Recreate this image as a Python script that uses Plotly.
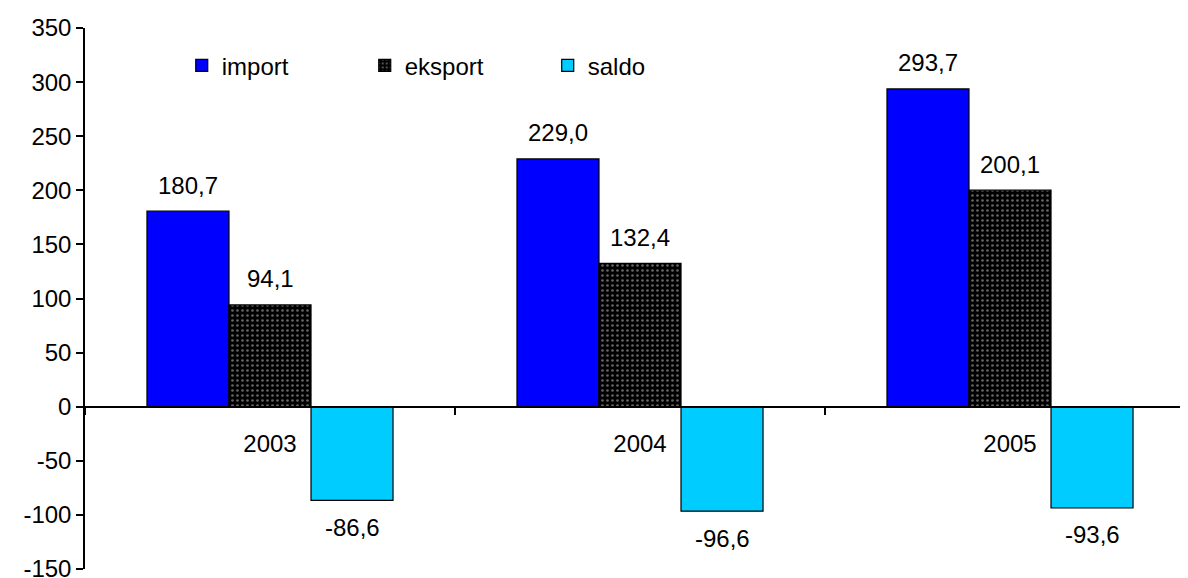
import plotly.graph_objects as go

years = ["2003", "2004", "2005"]
import_vals = [180.7, 229.0, 293.7]
eksport_vals = [94.1, 132.4, 200.1]
saldo_vals = [-86.6, -96.6, -93.6]
series_names = ["import", "eksport", "saldo"]
y_ticks = [-150, -100, -50, 0, 50, 100, 150, 200, 250, 300, 350]
y_tick_text = [str(v) for v in y_ticks]

FONT = "Liberation Sans, Arial, sans-serif"
FS = 24

fig = go.Figure()
fig.add_trace(go.Bar(x=years, y=import_vals, name=series_names[0],
                     marker=dict(color="#0000FF", line=dict(color="black", width=1.2))))
fig.add_trace(go.Bar(x=years, y=eksport_vals, name=series_names[1],
                     marker=dict(color="black", line=dict(color="black", width=1.2),
                                 pattern=dict(shape=".", fgcolor="#cccccc", bgcolor="black",
                                              size=5, solidity=0.22))))
fig.add_trace(go.Bar(x=years, y=saldo_vals, name=series_names[2],
                     marker=dict(color="#00CCFF", line=dict(color="black", width=1.2))))

bargap = 0.335
bw = (1 - bargap) / 3
annotations = []
for si, vals in enumerate([import_vals, eksport_vals, saldo_vals]):
    off = (si - 1) * bw
    for ci, v in enumerate(vals):
        annotations.append(dict(
            x=ci + off, y=v, xref="x", yref="y",
            text=f"{v:.1f}".replace(".", ","), showarrow=False,
            yshift=26 if v >= 0 else -27,
            font=dict(family=FONT, size=FS, color="black")))

fig.update_layout(
    width=1180, height=570,
    margin=dict(l=77, r=0, t=20, b=9, autoexpand=False),
    paper_bgcolor="white", plot_bgcolor="white",
    barmode="group", bargap=bargap, bargroupgap=0,
    font=dict(family=FONT, size=FS, color="black"),
    showlegend=True,
    legend=dict(orientation="h", x=0.0877, y=0.93, xanchor="left", yanchor="middle",
                entrywidth=138, font=dict(family=FONT, size=FS),
                bgcolor="rgba(0,0,0,0)", itemwidth=30),
    annotations=annotations,
    xaxis=dict(type="category", range=[-0.5, -0.5 + 1103 / 370],
               anchor="free", position=0.3, automargin=False,
               showline=True, linecolor="black", linewidth=1.5,
               ticks="outside", tickson="boundaries", ticklen=8, tickwidth=1.5,
               tickcolor="black", ticklabelstandoff=16,
               showgrid=False, zeroline=False,
               tickfont=dict(family=FONT, size=FS)),
    yaxis=dict(range=[-150, 350], tickvals=y_ticks, ticktext=y_tick_text,
               showgrid=False, zeroline=False, ticklabeloverflow="allow",
               automargin=False,
               showline=True, linecolor="black", linewidth=1.5,
               ticks="outside", ticklen=7, tickwidth=1.5, tickcolor="black",
               tickfont=dict(family=FONT, size=FS)),
)

fig.write_html("out.html")
